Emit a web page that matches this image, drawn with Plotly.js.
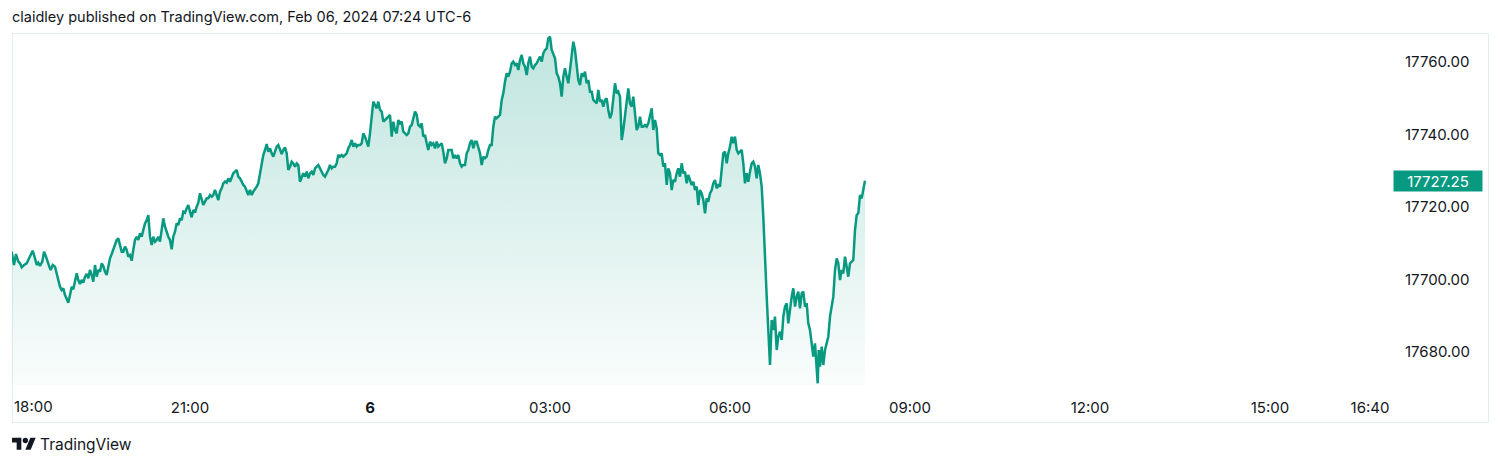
<!DOCTYPE html>
<html>
<head>
<meta charset="utf-8">
<script src="https://cdn.plot.ly/plotly-3.0.1.min.js"></script>
<style>
  html, body { margin: 0; padding: 0; background: #ffffff; width: 1500px; height: 465px; overflow: hidden; }
  #title { position: absolute; left: 12px; top: 8px; font-family: Inter, "Noto Sans", sans-serif; font-size: 14.5px; color: #131722; white-space: nowrap; }
  #frame { position: absolute; left: 12px; top: 33px; width: 1475px; height: 388px; border: 1px solid #e4efed; }
  #chart { position: absolute; left: 0; top: 0; width: 1500px; height: 465px; }
  #brand { position: absolute; left: 12px; top: 434px; height: 20px; display: flex; align-items: center; font-family: Inter, "Noto Sans", sans-serif; font-size: 15.5px; color: #131722; }
  #brand svg { margin-right: 4px; }
</style>
</head>
<body>
<div id="title">claidley published on TradingView.com, Feb 06, 2024 07:24 UTC-6</div>
<div id="frame"></div>
<div id="chart"></div>
<div id="brand"><svg width="24" height="19" viewBox="0 0 36 28"><path fill="#131722" d="M14 22H7V11H0V4h14v18zM28 22h-8l7.5-18h8L28 22z"/><circle fill="#131722" cx="20" cy="8" r="4"/></svg>TradingView</div>
<script>
// Minutes elapsed since 18:00 (Feb 5)
const minutes = [
  1.7, 4.0, 6.0, 8.3, 10.0, 11.7, 14.0, 16.7, 18.3, 20.7,
  22.7, 25.0, 26.7, 28.3, 30.0, 32.3, 34.0, 36.0, 37.3, 39.3,
  40.7, 42.7, 45.0, 46.7, 48.3, 50.0, 51.7, 53.3, 55.0, 56.7,
  58.3, 60.0, 61.7, 63.3, 65.0, 66.7, 68.3, 70.0, 71.7, 73.3,
  75.0, 76.7, 78.3, 80.0, 81.7, 83.3, 85.0, 86.7, 88.3, 90.0,
  91.7, 93.3, 95.0, 96.7, 98.3, 100.0, 101.7, 103.3, 105.0, 106.7,
  108.3, 110.0, 111.7, 113.3, 115.0, 116.7, 118.3, 120.0, 121.7, 123.3,
  125.0, 126.7, 128.3, 130.0, 131.7, 133.3, 135.0, 136.7, 138.3, 140.0,
  141.7, 143.3, 145.0, 146.7, 148.3, 150.0, 151.7, 153.3, 155.0, 156.7,
  158.3, 160.0, 161.7, 163.3, 165.0, 166.7, 168.3, 170.0, 171.7, 173.3,
  175.0, 176.7, 178.3, 180.0, 181.7, 183.3, 185.0, 186.7, 188.3, 190.0,
  191.7, 193.3, 195.0, 196.7, 198.3, 200.0, 201.7, 203.3, 205.0, 206.7,
  208.3, 210.0, 211.7, 213.3, 215.0, 216.7, 218.3, 220.0, 221.7, 223.3,
  225.0, 226.7, 228.3, 230.0, 231.7, 233.3, 235.0, 236.7, 238.3, 240.0,
  241.7, 243.3, 245.0, 246.7, 248.3, 250.0, 251.7, 253.3, 255.0, 256.7,
  258.3, 260.0, 261.7, 263.3, 265.0, 266.7, 268.3, 270.0, 271.7, 273.3,
  275.0, 276.7, 278.3, 280.0, 281.7, 283.3, 285.0, 286.7, 288.3,
  290.0, 291.7, 293.3, 295.0, 296.7, 298.3, 300.0, 301.7, 303.3, 305.0,
  306.7, 308.3, 310.0, 311.7, 313.3, 315.0, 316.7, 318.3, 320.0, 321.7,
  323.3, 325.0, 326.7, 328.3, 330.0, 331.7, 333.3, 335.0, 336.7, 338.3,
  340.0, 341.7, 343.3, 345.0, 346.7, 348.3, 350.0, 351.7, 353.3, 355.0,
  356.7, 358.3, 360.0, 361.7, 363.3, 365.0, 366.7, 368.3, 370.0, 371.7,
  373.3, 375.0, 376.7, 378.3, 380.0, 381.7, 383.3, 385.0, 386.7, 388.3,
  390.0, 391.7, 393.3, 395.0, 396.7, 398.3, 400.0, 401.7, 403.3, 405.0,
  406.7, 408.3, 410.0, 411.7, 413.3, 415.0, 416.7, 418.3, 420.0, 421.7,
  423.3, 425.0, 426.7, 428.3, 430.0, 431.7, 433.3, 435.0, 436.7, 438.3,
  440.0, 441.7, 443.3, 445.0, 446.7, 448.3, 450.0, 451.7, 453.3, 455.0,
  456.7, 458.3, 460.0, 461.7, 463.3, 465.0, 466.7, 468.3, 470.0, 471.7,
  473.3, 475.0, 476.7, 478.3, 480.0, 481.7, 483.3, 485.0, 486.7, 488.3,
  490.0, 491.7, 493.3, 495.0, 496.7, 498.3, 500.0, 501.7, 503.3, 505.0,
  506.7, 508.3, 510.0, 511.7, 513.3, 515.0, 516.7, 518.3, 520.0, 521.7,
  523.3, 525.0, 526.7, 528.3, 530.0, 531.7, 533.3, 535.0, 536.7, 538.3,
  540.0, 541.7, 543.3, 545.0, 546.7, 548.3, 550.0, 551.7, 553.3, 555.0,
  556.7, 558.3, 560.0, 561.7, 563.3, 565.0, 566.7, 568.3, 570.0, 571.7,
  573.3, 575.0, 576.7, 578.3, 580.0,
  581.7, 583.3, 585.0, 586.7, 588.3, 590.0, 591.7, 593.3, 595.0, 596.7,
  598.3, 600.0, 601.7, 603.3, 605.0, 606.7, 608.3, 610.0, 611.7, 613.3,
  615.0, 616.7, 618.3, 620.0, 621.7, 623.3, 625.0, 626.7, 628.3, 630.0,
  631.7, 633.3, 635.0, 636.7, 638.3, 640.0, 641.7, 643.3, 645.0, 646.7,
  648.3, 650.0, 651.7, 653.3, 655.0, 656.7, 658.3, 660.0, 661.7, 663.3,
  665.0, 666.7, 668.3, 670.0, 671.7, 673.3, 675.0, 676.7, 678.3, 680.0,
  681.7, 683.3, 685.0, 686.7, 688.3, 690.0, 691.7, 693.3, 695.0, 696.7,
  698.3, 700.0, 701.7, 703.3, 705.0, 706.7, 708.3, 710.0, 711.7, 713.3,
  715.0, 716.7, 718.3, 720.0, 721.7, 723.3, 725.0, 726.7, 728.3, 730.0,
  731.7, 733.3, 735.0, 736.7, 738.3, 740.0, 741.7, 743.3, 745.0, 746.7,
  748.3, 750.0, 751.7, 753.3, 755.0, 756.7, 758.3, 760.0, 761.7, 763.3,
  765.0, 766.7, 768.3, 770.0, 771.7, 773.3, 775.0, 776.7, 778.3, 780.0,
  781.7, 783.3, 785.0, 786.7, 788.3, 790.0, 791.7, 793.3, 795.0, 796.7,
  798.3, 800.0, 801.7, 803.3, 805.0, 806.7, 807.7, 808.7, 810.0, 811.7,
  813.3, 815.0, 816.7, 818.3, 820.0, 821.7, 823.3, 825.0, 826.7, 828.3,
  830.0, 831.7, 833.3, 835.0, 836.7, 838.3, 840.0, 841.7, 843.3, 845.0,
  846.7, 848.3, 850.0, 851.7, 853.3, 855.0
];

// NQ price readings
const prices = [
  17707.68, 17704.00, 17707.03, 17704.92, 17704.46, 17703.35, 17704.00, 17704.46, 17705.38, 17706.76,
  17707.95, 17705.84, 17704.00, 17704.64, 17703.72, 17704.92, 17707.68, 17706.30, 17704.92, 17703.54,
  17702.62, 17704.00, 17703.54, 17701.70, 17699.86, 17698.02, 17697.10, 17697.56, 17695.72, 17694.80,
  17693.61, 17695.72, 17698.02, 17697.29, 17699.40, 17701.70, 17699.86, 17698.76, 17699.86, 17699.13,
  17700.78, 17701.52, 17700.32, 17702.62, 17701.24, 17699.40, 17704.00, 17700.78, 17702.62, 17702.16,
  17704.46, 17703.72, 17702.16, 17701.24, 17703.54, 17705.84, 17707.03, 17708.14, 17709.52, 17710.90,
  17711.35, 17709.52, 17707.68, 17707.68, 17709.06, 17708.14, 17706.30, 17706.76, 17705.19, 17708.14,
  17710.90, 17711.81, 17710.90, 17712.73, 17711.81, 17713.65, 17715.49, 17716.41, 17717.79, 17711.81,
  17709.52, 17711.81, 17710.44, 17710.90, 17711.81, 17710.44, 17714.57, 17716.87, 17714.57, 17712.73,
  17711.81, 17710.90, 17708.32, 17711.81, 17713.19, 17715.49, 17715.03, 17716.87, 17716.41, 17718.71,
  17718.44, 17719.63, 17720.55, 17718.71, 17717.15, 17719.17, 17718.44, 17720.09, 17721.19, 17723.77,
  17721.93, 17720.55, 17721.47, 17722.39, 17722.39, 17723.31, 17722.85, 17723.31, 17724.69, 17722.85,
  17721.93, 17724.23, 17725.15, 17726.53, 17726.99, 17726.71, 17727.91, 17726.99, 17728.37, 17729.29,
  17729.75, 17730.21, 17728.37, 17727.91, 17726.99, 17726.07, 17725.61, 17724.23, 17723.31, 17724.69,
  17723.31, 17724.23, 17724.87, 17725.61, 17726.53, 17729.29, 17732.04, 17734.34, 17735.72, 17737.38,
  17735.26, 17736.18, 17734.80, 17733.88, 17735.26, 17736.64, 17737.10, 17735.72, 17734.62, 17735.72,
  17736.46, 17734.80, 17730.21, 17731.13, 17732.50, 17732.04, 17731.13, 17732.04, 17731.58,
  17726.99, 17728.37, 17729.29, 17728.37, 17729.75, 17727.91, 17729.29, 17729.75, 17728.83, 17730.67,
  17731.13, 17731.59, 17730.67, 17729.75, 17728.83, 17728.37, 17729.29, 17730.21, 17731.59, 17730.67,
  17731.13, 17731.13, 17732.05, 17734.35, 17733.89, 17734.35, 17733.89, 17734.35, 17734.81, 17736.19,
  17737.11, 17738.49, 17736.65, 17737.57, 17736.65, 17737.11, 17737.11, 17737.57, 17740.32, 17739.40,
  17737.57, 17736.65, 17740.32, 17744.92, 17749.06, 17748.14, 17747.22, 17749.06, 17746.76, 17746.30,
  17743.54, 17744.00, 17744.46, 17744.92, 17745.38, 17739.40, 17743.54, 17741.24, 17740.32, 17744.00,
  17743.08, 17743.54, 17740.78, 17740.32, 17739.86, 17740.32, 17742.16, 17742.62, 17744.92, 17746.30,
  17745.38, 17742.62, 17742.16, 17743.08, 17739.40, 17739.86, 17737.57, 17735.73, 17738.03, 17737.11,
  17737.57, 17736.19, 17738.03, 17736.65, 17737.11, 17737.57, 17735.27, 17732.05, 17733.43, 17735.73,
  17735.73, 17735.73, 17733.43, 17734.35, 17733.43, 17734.35, 17732.05, 17731.13, 17731.59, 17731.59,
  17734.81, 17735.73, 17737.57, 17738.49, 17736.19, 17738.03, 17738.03, 17736.19, 17734.81, 17731.59,
  17733.89, 17733.43, 17733.89, 17735.73, 17737.11, 17737.11, 17742.16, 17744.92, 17744.46, 17744.92,
  17745.38, 17749.52, 17751.36, 17754.58, 17756.88, 17755.96, 17757.34, 17759.63, 17760.09, 17759.17,
  17759.63, 17757.80, 17760.55, 17761.93, 17759.63, 17758.72, 17756.42, 17759.63, 17761.47, 17758.72,
  17758.26, 17759.17, 17759.63, 17760.55, 17761.47, 17760.09, 17762.39, 17763.31, 17763.77, 17766.53,
  17766.99, 17763.31, 17762.39, 17761.01, 17756.88, 17755.96, 17754.12, 17750.44, 17755.96, 17758.26,
  17755.96, 17754.12, 17757.80, 17761.47, 17765.61, 17763.31, 17758.26, 17755.04, 17753.66, 17756.88,
  17755.96, 17757.34, 17754.12, 17755.04, 17751.82,
  17751.82, 17749.52, 17749.06, 17748.60, 17752.28, 17749.06, 17749.52, 17747.68, 17749.52, 17749.98,
  17746.76, 17744.46, 17745.84, 17750.44, 17754.12, 17751.36, 17751.82, 17750.44, 17738.49, 17741.24,
  17745.84, 17749.06, 17752.74, 17748.60, 17747.68, 17750.44, 17744.92, 17741.24, 17742.16, 17744.92,
  17742.16, 17742.16, 17742.62, 17742.16, 17743.08, 17744.92, 17747.22, 17741.24, 17744.00, 17741.70,
  17734.81, 17734.35, 17734.81, 17731.13, 17732.05, 17726.07, 17730.67, 17729.29, 17724.69, 17727.45,
  17726.99, 17729.29, 17730.67, 17728.37, 17732.05, 17729.29, 17729.75, 17726.53, 17728.83, 17727.45,
  17726.07, 17726.99, 17724.69, 17725.61, 17720.55, 17724.69, 17723.77, 17721.93, 17718.26, 17722.39,
  17721.47, 17723.77, 17724.69, 17726.53, 17727.45, 17725.15, 17726.07, 17725.61, 17730.21, 17734.81,
  17735.27, 17732.05, 17734.81, 17736.65, 17739.40, 17737.57, 17739.40, 17735.73, 17734.81, 17735.27,
  17735.73, 17732.05, 17726.53, 17729.29, 17726.99, 17729.75, 17732.05, 17732.51, 17731.13, 17727.91,
  17731.59, 17729.29, 17725.61, 17717.34, 17704.46, 17695.27, 17686.07, 17676.42, 17688.83, 17686.07,
  17689.75, 17680.55, 17684.23, 17685.61, 17683.31, 17689.75, 17692.51, 17693.43, 17687.91, 17692.51,
  17695.27, 17697.57, 17692.51, 17695.27, 17696.65, 17692.05, 17696.19, 17696.65, 17692.51, 17693.43,
  17687.91, 17686.07, 17682.85, 17678.72, 17682.39, 17676.88, 17671.36, 17680.55, 17675.96, 17681.47,
  17676.42, 17680.55, 17682.39, 17684.23, 17689.75, 17693.43, 17695.27, 17702.62, 17705.84, 17704.46,
  17699.86, 17702.62, 17701.70, 17706.30, 17702.62, 17700.78, 17704.46, 17704.92, 17705.38, 17713.66,
  17717.80, 17718.26, 17723.31, 17722.39, 17724.69, 17727.25
];

const xTickVals = [180, 360, 540, 720, 900, 1080, 1260, 1360];
const xTickText = ['21:00', '<b>6</b>', '03:00', '06:00', '09:00', '12:00', '15:00', '16:40'];
const yTickVals = [17680, 17700, 17720, 17740, 17760];
const yTickText = ['17680.00', '17700.00', '17720.00', '17740.00', '17760.00'];
const lastPrice = prices[prices.length - 1];

const lineColor = '#089981';
const font = 'Inter, "Noto Sans", sans-serif';
const tickSize = 15;

const trace = {
  x: minutes,
  y: prices,
  type: 'scatter',
  mode: 'lines',
  line: { color: lineColor, width: 2.5 },
  fill: 'tozeroy',
  fillgradient: {
    type: 'vertical',
    start: 17670,
    stop: 17768,
    colorscale: [[0, 'rgba(8,153,129,0.02)'], [1, 'rgba(8,153,129,0.26)']]
  },
  hoverinfo: 'skip'
};

const layout = {
  width: 1500,
  height: 465,
  margin: { l: 12, r: 110, t: 33, b: 80, pad: 0 },
  paper_bgcolor: 'rgba(0,0,0,0)',
  plot_bgcolor: 'rgba(0,0,0,0)',
  showlegend: false,
  font: { family: font, size: tickSize, color: '#131722' },
  xaxis: {
    range: [2, 1380],
    tickmode: 'array',
    tickvals: xTickVals,
    ticktext: xTickText,
    showgrid: false,
    zeroline: false,
    showline: false,
    ticks: '',
    ticklabelstandoff: 12,
    tickfont: { family: font, size: tickSize, color: '#131722' },
    fixedrange: true
  },
  yaxis: {
    side: 'right',
    range: [17670.9, 17768.0],
    tickmode: 'array',
    tickvals: yTickVals,
    ticktext: yTickText,
    showgrid: false,
    zeroline: false,
    showline: false,
    ticks: '',
    ticklabelstandoff: 14,
    tickfont: { family: font, size: tickSize, color: '#131722' },
    fixedrange: true
  },
  annotations: [
    {
      xref: 'paper', yref: 'paper', x: 0, y: -0.06,
      xanchor: 'left', yanchor: 'middle', showarrow: false,
      text: '18:00', font: { family: font, size: tickSize, color: '#131722' }
    },
    {
      xref: 'paper', yref: 'y', x: 1.0022, y: lastPrice,
      xanchor: 'left', yanchor: 'middle', showarrow: false,
      text: lastPrice.toFixed(2),
      bgcolor: lineColor, borderpad: 2, width: 84, height: 16, align: 'center',
      font: { family: font, size: tickSize, color: '#ffffff' }
    }
  ]
};

Plotly.newPlot('chart', [trace], layout, { displayModeBar: false, staticPlot: true });
</script>
</body>
</html>
